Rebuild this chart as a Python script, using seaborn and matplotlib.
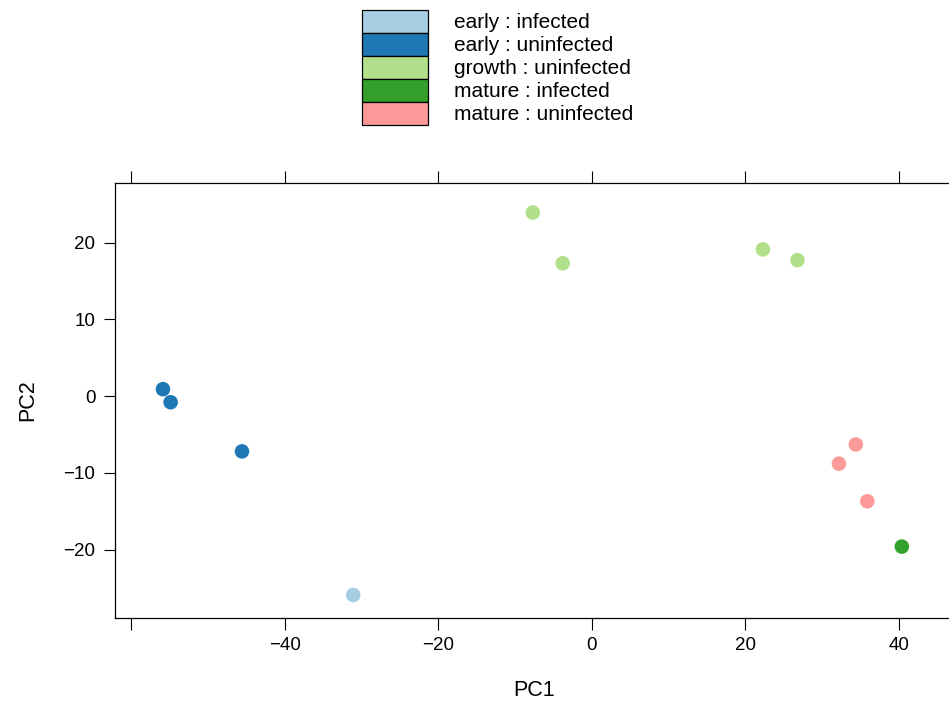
import numpy as np
import pandas as pd
import matplotlib
matplotlib.use("Agg")
import matplotlib.pyplot as plt
import seaborn as sns
from matplotlib.patches import Patch

# ---- data ----
groups = ["early : uninfected", "early : uninfected", "early : uninfected",
          "early : infected",
          "growth : uninfected", "growth : uninfected", "growth : uninfected", "growth : uninfected",
          "mature : uninfected", "mature : uninfected", "mature : uninfected",
          "mature : infected"]
pc1 = [-55.9, -54.9, -45.6,
       -31.1,
       -7.7, -3.8, 22.3, 26.8,
       34.4, 32.2, 35.9,
       40.4]
pc2 = [0.9, -0.8, -7.2,
       -25.9,
       23.9, 17.3, 19.1, 17.7,
       -6.3, -8.8, -13.7,
       -19.6]
hue_order = ["early : infected", "early : uninfected", "growth : uninfected",
             "mature : infected", "mature : uninfected"]
colors = ["#A6CEE3", "#1F78B4", "#B2DF8A", "#33A02C", "#FB9A99"]
xticks = [-60, -40, -20, 0, 20, 40]
xticklabels = ["", "\u221240", "\u221220", "0", "20", "40"]
yticks = [-20, -10, 0, 10, 20]
yticklabels = ["\u221220", "\u221210", "0", "10", "20"]

df = pd.DataFrame({"PC1": pc1, "PC2": pc2, "group": groups})

sns.set_theme(style="white")
plt.rcParams["font.family"] = ["Liberation Sans", "DejaVu Sans"]
plt.rcParams["text.color"] = "black"
plt.rcParams["axes.labelcolor"] = "black"
plt.rcParams["xtick.color"] = "black"
plt.rcParams["ytick.color"] = "black"

W, H = 949, 706
fig = plt.figure(figsize=(W / 100, H / 100), dpi=100)
left, right, top, bottom = 115, 954, 183, 618
ax = fig.add_axes([left / W, 1 - bottom / H, (right - left) / W, (bottom - top) / H])

sns.scatterplot(data=df, x="PC1", y="PC2", hue="group", hue_order=hue_order,
                palette=colors, s=110, linewidth=0, legend=False, ax=ax, zorder=3)

ax.set_xlim(-62.15, 47.2)
ax.set_ylim(-28.9, 27.75)
ax.set_xticks(xticks, xticklabels)
ax.set_yticks(yticks, yticklabels)
ax.tick_params(axis="x", direction="out", length=8.6, width=0.8, color="black",
               top=True, bottom=True, labeltop=False, labelsize=13.5, pad=5,
               labelcolor="black")
ax.tick_params(axis="y", direction="out", length=8.2, width=0.8, color="black",
               left=True, right=False, labelsize=13.5, pad=6, labelcolor="black")
for sp in ax.spines.values():
    sp.set_color("black")
    sp.set_linewidth(0.9)
ax.set_xlabel("PC1", fontsize=15.5, labelpad=19, color="black")
ax.set_ylabel("PC2", fontsize=15.5, labelpad=18, color="black")
ax.grid(False)

handles = [Patch(facecolor=c, edgecolor="black", linewidth=0.9) for c in colors]
leg = fig.legend(handles, hue_order, loc="upper left",
                 bbox_to_anchor=(362 / W, 1 - 10 / H), frameon=False,
                 fontsize=15, handlelength=3.17, handleheight=1.321,
                 labelspacing=0.0, handletextpad=1.25, borderpad=0,
                 borderaxespad=0)
for t in leg.get_texts():
    t.set_color("black")

fig.savefig("out.png", dpi=100)
